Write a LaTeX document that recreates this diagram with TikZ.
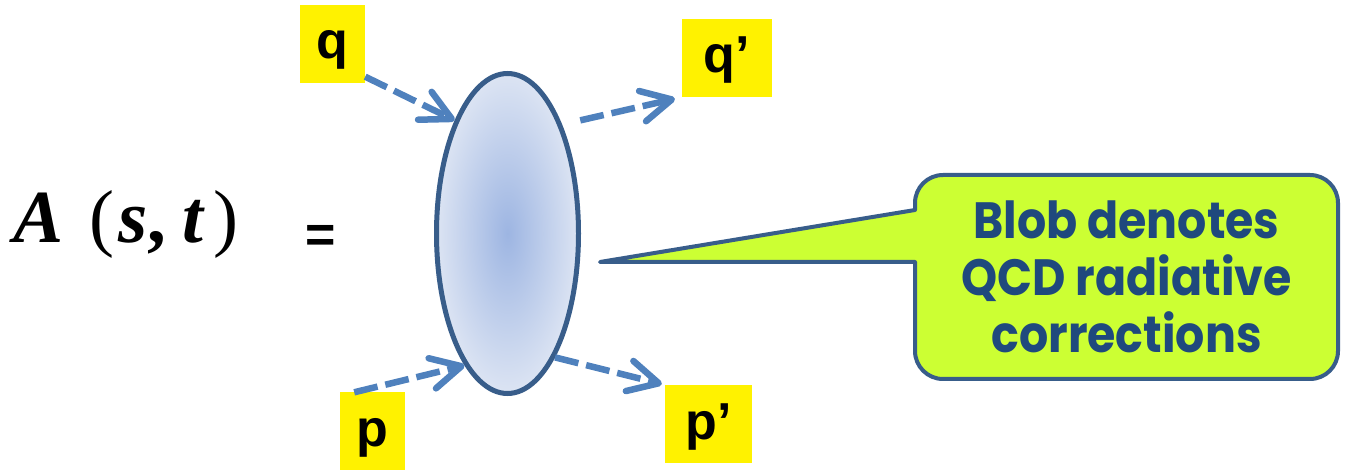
\documentclass[tikz,border=0pt]{standalone}
\usepackage{fontspec}
\usetikzlibrary{shapes.geometric,arrows.meta}
\newfontfamily\labelfont{Liberation Sans}
\newfontfamily\notefont[FakeStretch=0.9]{Poppins}
\newfontfamily\ampfont{Liberation Serif}
\definecolor{lineblue}{HTML}{4F81BD}
\definecolor{edgeblue}{HTML}{385D8A}
\definecolor{notetext}{HTML}{1F497D}
\definecolor{notefill}{HTML}{CCFF33}
\definecolor{blobin}{HTML}{9DB5E2}
\definecolor{blobout}{HTML}{DCE4F3}
\begin{document}
\begin{tikzpicture}[x=1pt,y=-1pt,
  mom/.style={fill=yellow, minimum height=78pt, inner sep=0pt, text height=30pt, text depth=0pt,
    font=\labelfont\bfseries\fontsize{52}{52}\selectfont},
  leg/.style={lineblue, line width=6.5pt, dash pattern=on 24pt off 8pt,
    -{Straight Barb[length=30pt,width=31pt,round]}}]
\fill[white] (0,0) rectangle (1345,470);
\useasboundingbox (0,0) rectangle (1345,470);
% Left side: amplitude
\node[anchor=base west, inner sep=0pt, font=\ampfont\fontsize{75}{77}\selectfont] (amp) at (13,243)
  {\textbf{\textit{A}}\hspace{26pt}(\hspace{4pt}\textbf{\textit{s}}\textbf{,}\hspace{16pt}\textbf{\textit{t}}\hspace{9pt})};
\node[font=\labelfont\bfseries\fontsize{52}{52}\selectfont] (eq) at (321,239) {=};
% Blob and external momenta
\node[ellipse, draw=edgeblue, line width=5pt, inner color=blobin, outer color=blobout,
  minimum width=142pt, minimum height=320pt] (blob) at (507.5,233.5) {};
\node[mom, minimum width=65pt] (q) at (332.5,44) {q};
\node[mom, minimum width=90pt] (qout) at (727,58) {q’};
\node[mom, minimum width=65pt] (p) at (372.5,431.5) {p};
\node[mom, minimum width=87pt] (pout) at (708.5,424) {p’};
\draw[leg] (q.-45) -- (blob.115);
\draw[leg, shorten >=7pt] ([xshift=20pt]blob.65) -- (qout.south west);
\draw[leg] (p.115) -- (blob.-108);
\draw[leg, shorten >=3pt] (blob.-69) -- (pout.north west);
% Callout
\node[draw=edgeblue, line width=4pt, fill=notefill, rounded corners=28pt, outer sep=0pt,
  minimum width=423pt, minimum height=204pt, align=center, text=notetext,
  font=\notefont\bfseries\fontsize{51}{57}\selectfont] (note) at (1126.5,277)
  {Blob denotes\\QCD radiative\\corrections};
\coordinate (tip) at (600,262);
\coordinate (tailtop) at ([yshift=67pt]note.west);
\coordinate (tailbot) at ([yshift=15pt]note.west);
\fill[notefill] (tip) -- (tailtop) -- ([xshift=6pt]tailtop) -- ([xshift=6pt]tailbot) -- (tailbot) -- cycle;
\draw[edgeblue, line width=4pt, line join=round, line cap=round] (tailtop) -- (tip) -- (tailbot);
\end{tikzpicture}
\end{document}
